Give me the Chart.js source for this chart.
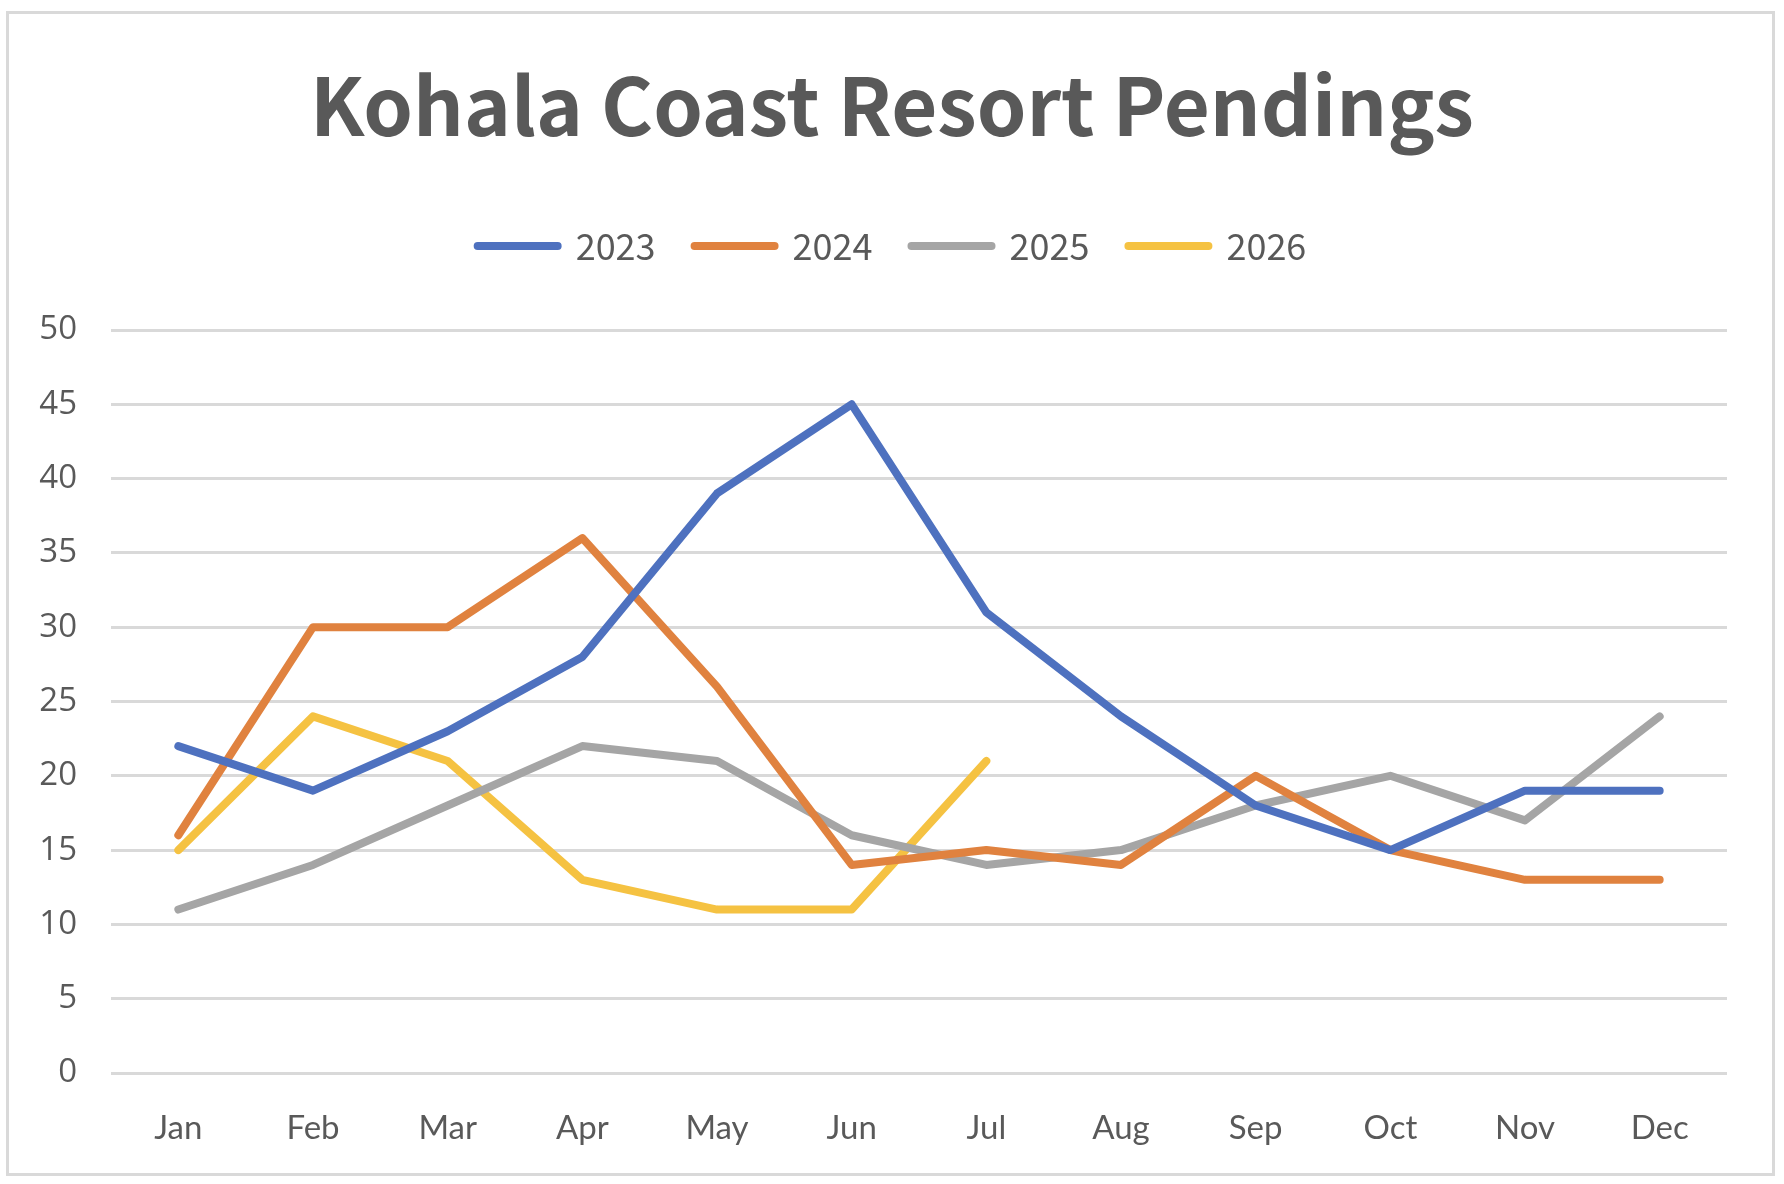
<!DOCTYPE html>
<html>
<head>
<meta charset="utf-8">
<script src="https://cdn.jsdelivr.net/npm/chart.js@4/dist/chart.umd.min.js"></script>
<style>
  html, body { margin: 0; padding: 0; background: #ffffff; }
  #wrap { position: relative; width: 1784px; height: 1184px; }
</style>
</head>
<body>
<div id="wrap"><canvas id="c" width="1784" height="1184"></canvas></div>
<script>
const months = ["Jan","Feb","Mar","Apr","May","Jun","Jul","Aug","Sep","Oct","Nov","Dec"];
const seriesNames = ["2023","2024","2025","2026"];
const values2023 = [22, 19, 23, 28, 39, 45, 31, 24, 18, 15, 19, 19];
const values2024 = [16, 30, 30, 36, 26, 14, 15, 14, 20, 15, 13, 13];
const values2025 = [11, 14, 18, 22, 21, 16, 14, 15, 18, 20, 17, 24];
const values2026 = [15, 24, 21, 13, 11, 11, 21];
const yTicks = [0, 5, 10, 15, 20, 25, 30, 35, 40, 45, 50];
const titleText = "Kohala Coast Resort Pendings";

const colors = ["#4E71BF", "#E0823F", "#A5A5A5", "#F5C242"];
const allValues = [values2023, values2024, values2025, values2026];
const textColor = "#595959";

const framePlugin = {
  id: 'frame',
  beforeDraw(chart) {
    const ctx = chart.ctx;
    ctx.save();
    ctx.fillStyle = '#ffffff';
    ctx.fillRect(0, 0, chart.width, chart.height);
    ctx.strokeStyle = '#d9d9d9';
    ctx.lineWidth = 3;
    ctx.strokeRect(7.5, 12.5, 1766, 1162);
    ctx.restore();
  }
};

new Chart(document.getElementById('c'), {
  type: 'line',
  data: {
    labels: months,
    datasets: seriesNames.map((name, i) => ({
      label: name,
      data: allValues[i],
      borderColor: colors[i],
      backgroundColor: colors[i],
      borderWidth: 8,
      borderCapStyle: 'round',
      borderJoinStyle: 'round',
      pointRadius: 0,
      pointHoverRadius: 0,
      pointBorderWidth: 8,
      pointStyle: 'line',
      tension: 0,
      fill: false,
      yAxisID: 'y'
    }))
  },
  options: {
    responsive: false,
    animation: false,
    devicePixelRatio: 1,
    layout: { padding: { left: 0, right: 0, top: 0, bottom: 0 } },
    plugins: {
      title: {
        display: true,
        text: titleText,
        color: textColor,
        font: { family: "'Noto Sans CJK JP', 'Noto Sans', sans-serif", size: 79.5, weight: 'bold', lineHeight: 1.2 },
        padding: { top: 58, bottom: 35.6 }
      },
      subtitle: {
        display: true,
        text: '',
        weight: 500,
        font: { size: 10, lineHeight: 1 },
        padding: { top: 0, bottom: 46 }
      },
      legend: {
        display: true,
        position: 'top',
        labels: {
          usePointStyle: true,
          pointStyle: 'line',
          pointStyleWidth: 80,
          color: textColor,
          font: { family: "'Noto Sans CJK JP', 'Noto Sans', sans-serif", size: 36 },
          padding: 39,
          generateLabels(chart) {
            const items = Chart.defaults.plugins.legend.labels.generateLabels(chart);
            items.forEach(it => { it.lineWidth = 8; it.lineCap = 'round'; });
            return items;
          }
        }
      },
      tooltip: { enabled: false }
    },
    scales: {
      x: {
        offset: true,
        grid: { display: false, drawTicks: false },
        border: { display: false },
        ticks: {
          color: textColor,
          font: { family: "Lato, 'Open Sans', sans-serif", size: 33 },
          padding: 36,
          maxRotation: 0
        },
        afterFit(scale) { scale.height = 111; }
      },
      y: {
        position: 'left',
        min: 0,
        max: 50,
        grid: { color: '#d9d9d9', lineWidth: 3, drawTicks: false },
        border: { display: false },
        afterBuildTicks(scale) { scale.ticks = yTicks.map(v => ({ value: v })); },
        ticks: {
          color: textColor,
          font: { family: "'Open Sans', sans-serif", size: 33 },
          padding: 34
        },
        afterFit(scale) { scale.width = 111; }
      },
      yRight: {
        position: 'right',
        display: true,
        min: 0,
        max: 50,
        grid: { display: false, drawTicks: false },
        border: { display: false },
        ticks: { display: false },
        afterFit(scale) { scale.width = 57; }
      }
    }
  },
  plugins: [framePlugin]
});
</script>
</body>
</html>
